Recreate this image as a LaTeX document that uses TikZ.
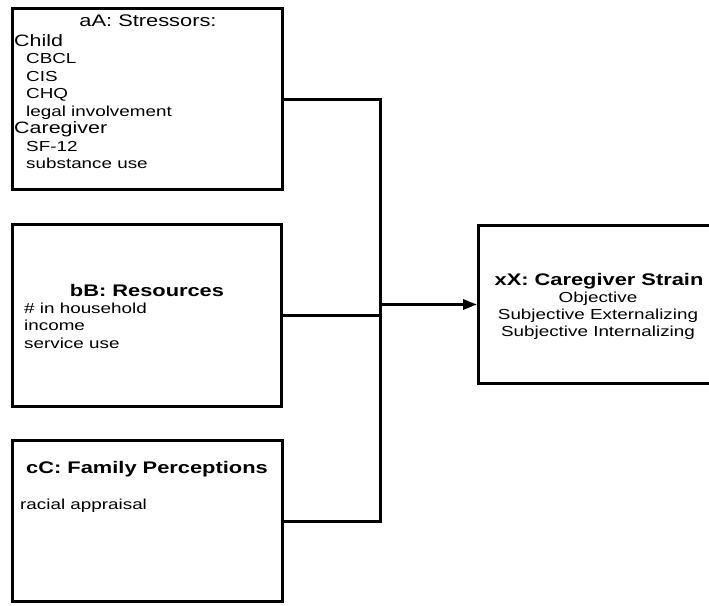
\documentclass[tikz,border=0pt]{standalone}
\usepackage{fontspec}
\setmainfont{Liberation Sans}[FakeStretch=1.3]
\usetikzlibrary{arrows.meta,positioning}

\begin{document}
\begin{tikzpicture}[x=1pt,y=-1pt,>={Triangle[length=14pt,width=10pt]},
    box/.style={draw,line width=3pt,inner sep=0pt},
    head/.style={inner sep=0pt,font=\fontsize{16.8}{17.5}\selectfont},
    headb/.style={head,font=\fontsize{16.8}{17.5}\selectfont\bfseries},
    list/.style={inner sep=0pt,align=left,font=\fontsize{14.5}{17.5}\selectfont},
    wire/.style={line width=3pt}]

            \useasboundingbox (0,0) rectangle (709,605);

            \node[box,minimum width=270pt,minimum height=181pt] (stress) at (147.5,99) {};

            \node[box,minimum width=269pt,minimum height=182pt] (resrc) at (147,315.5) {};

            \node[box,minimum width=270pt,minimum height=161pt] (percep) at (147.5,521) {};

            \node[box,minimum width=239pt,minimum height=158pt] (strain) at (598,304.5) {};

            % texts in the boxes (base = last line)
            \node[head,anchor=base] (stresstl) at (148,27) {aA: Stressors:};
            \node[list,anchor=base west] (stresslist) at (14,168.5)
              {{\fontsize{16.5}{17.5}\selectfont Child}\\
               \hspace*{12pt}CBCL\\
               \hspace*{12pt}CIS\\
               \hspace*{12pt}CHQ\\
               \hspace*{12pt}legal involvement\\
               {\fontsize{16.5}{17.5}\selectfont Caregiver}\\
               \hspace*{12pt}SF-12\\
               \hspace*{12pt}substance use};

            \node[headb,anchor=base] (resrctl) at (147,296) {bB: Resources};
            \node[list,anchor=base west] (resrclist) at (24,348)
              {\# in household\\income\\service use};

            \node[headb,anchor=base] (perceptl) at (147,473) {cC: Family Perceptions};
            \node[list,anchor=base west] (perceplist) at (20,509) {racial appraisal};

            \node[headb,anchor=base] (straintl) at (599,285) {xX: Caregiver Strain};
            \node[list,align=center,anchor=base,font=\fontsize{14.5}{17}\selectfont] (strainlist) at (598,336)
              {Objective\\Subjective Externalizing\\Subjective Internalizing};

            \coordinate (join) at (380,304.5);

            \foreach \src in {stress, resrc, percep}
              {
                \draw[wire] (\src.east) -| (join);
              }
            \draw[wire,->] (join) -- (strain.west);

\end{tikzpicture}
\end{document}
